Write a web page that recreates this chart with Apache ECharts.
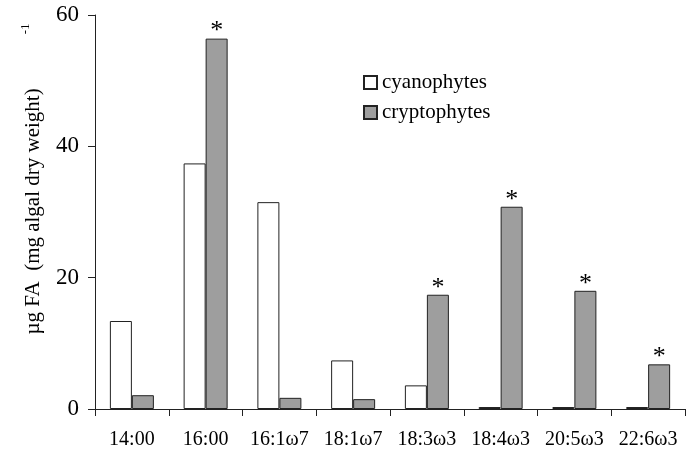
<!DOCTYPE html>
<html><head><meta charset="utf-8">
<script src="https://cdn.jsdelivr.net/npm/echarts@6/dist/echarts.min.js"></script>
<style>html,body{margin:0;padding:0;background:#fff}#c{width:692px;height:454px}</style>
</head><body><div id="c"></div>
<script>
var categories = ['14:00','16:00','16:1ω7','18:1ω7','18:3ω3','18:4ω3','20:5ω3','22:6ω3'];
var cyanophytes = [13.4, 37.4, 31.5, 7.4, 3.6, 0.3, 0.3, 0.3];
var cryptophytes = [2.1, 56.4, 1.7, 1.5, 17.4, 30.8, 18.0, 6.8];
var significant = [false, true, false, false, true, true, true, true];
var yTicks = [0, 20, 40, 60];

var font = '"Liberation Serif","Times New Roman",serif';
var chart = echarts.init(document.getElementById('c'));
chart.setOption({
  animation: false,
  textStyle: {fontFamily: font},
  grid: {left: 95, right: 7, top: 15, bottom: 45},
  legend: {
    orient: 'vertical', left: 363, top: 72, padding: 0, itemWidth: 13, itemHeight: 13, itemGap: 9,
    icon: 'rect',
    textStyle: {fontFamily: font, fontSize: 21, color: '#000'},
    data: ['cyanophytes', 'cryptophytes']
  },
  xAxis: {
    type: 'category', data: categories,
    axisLine: {lineStyle: {color: '#222', width: 1}},
    axisTick: {show: true, inside: false, length: 7, lineStyle: {color: '#222'}},
    axisLabel: {interval: 0, hideOverlap: false, fontFamily: font, fontSize: 20, color: '#000', margin: 21},
    splitLine: {show: false}
  },
  yAxis: {
    type: 'value', min: yTicks[0], max: yTicks[yTicks.length - 1], interval: 20,
    axisLine: {show: true, lineStyle: {color: '#222', width: 1}},
    axisTick: {show: true, length: 7, lineStyle: {color: '#222'}},
    axisLabel: {fontFamily: font, fontSize: 23, color: '#000', margin: 16},
    splitLine: {show: false},
    name: '{n|µg FA  (mg algal dry weight)}{s|-1}',
    nameLocation: 'middle', nameGap: 47, nameRotate: 90,
    nameTextStyle: {
      padding: [0, 0, 0, 66],
      rich: {
        n: {fontFamily: font, fontSize: 21, color: '#000'},
        s: {fontFamily: font, fontSize: 13, color: '#000', padding: [0, 0, 16, 54]}
      }
    }
  },
  series: [
    {
      name: 'cyanophytes', type: 'bar', data: cyanophytes, barWidth: 22, barGap: '0%',
      itemStyle: {color: '#ffffff', borderColor: '#222', borderWidth: 1}
    },
    {
      name: 'cryptophytes', type: 'bar', data: cryptophytes, barWidth: 22,
      itemStyle: {color: '#9e9e9e', borderColor: '#222', borderWidth: 1},
      label: {
        show: true, position: 'top', distance: 0, offset: [0, 6],
        fontFamily: font, fontSize: 26, color: '#000',
        formatter: function (p) { return significant[p.dataIndex] ? '*' : ''; }
      }
    }
  ]
});
</script></body></html>
